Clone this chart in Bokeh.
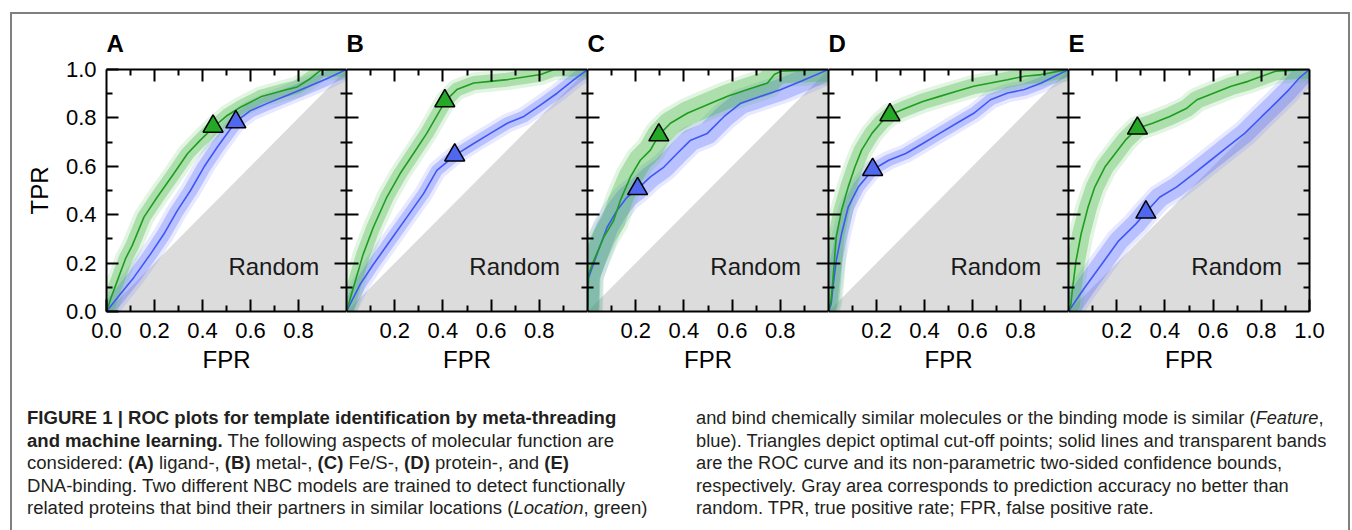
from bokeh.plotting import figure
from bokeh.layouts import row, column
from bokeh.models import (Range1d, LinearAxis, FixedTicker, PrintfTickFormatter,
                          CustomJSTickFormatter, Div)
from bokeh.core.properties import value
from bokeh.embed import file_html
from bokeh.resources import INLINE

FONT = "Liberation Sans"

# ---------------- data ----------------
panel_letters = ["A", "B", "C", "D", "E"]
major_ticks = [0.0, 0.2, 0.4, 0.6, 0.8, 1.0]
minor_ticks = [0.1, 0.3, 0.5, 0.7, 0.9]
x_tick_labels = [
    [0.0, 0.2, 0.4, 0.6, 0.8],
    [0.2, 0.4, 0.6, 0.8],
    [0.2, 0.4, 0.6, 0.8],
    [0.2, 0.4, 0.6, 0.8],
    [0.2, 0.4, 0.6, 0.8, 1.0],
]
random_fpr = [0.0, 1.0, 1.0]
random_tpr = [0.0, 0.0, 1.0]

# A: ligand-binding
A_loc_fpr = [0, 0.02, 0.05, 0.08, 0.107, 0.156, 0.211, 0.28, 0.337, 0.39, 0.444, 0.503, 0.56, 0.643, 0.74, 0.795, 0.85, 0.893, 1]
A_loc_tpr = [0, 0.06, 0.14, 0.22, 0.272, 0.39, 0.472, 0.569, 0.652, 0.707, 0.76, 0.81, 0.845, 0.887, 0.914, 0.928, 0.963, 0.997, 1]
A_feat_fpr = [0, 0.058, 0.114, 0.184, 0.239, 0.295, 0.35, 0.406, 0.462, 0.517, 0.545, 0.6, 0.67, 0.754, 0.837, 0.92, 1]
A_feat_tpr = [0, 0.072, 0.141, 0.238, 0.32, 0.417, 0.5, 0.597, 0.68, 0.755, 0.79, 0.83, 0.86, 0.894, 0.928, 0.963, 1]
A_cut = {"loc": (0.444, 0.765), "feat": (0.539, 0.783)}

# B: metal-binding
B_loc_fpr = [0, 0.028, 0.069, 0.111, 0.167, 0.222, 0.278, 0.333, 0.389, 0.41, 0.458, 0.528, 0.597, 0.667, 0.806, 0.861, 1]
B_loc_tpr = [0, 0.097, 0.236, 0.347, 0.472, 0.569, 0.653, 0.736, 0.833, 0.87, 0.917, 0.944, 0.951, 0.958, 0.979, 1.0, 1]
B_feat_fpr = [0, 0.056, 0.111, 0.181, 0.25, 0.319, 0.375, 0.451, 0.528, 0.597, 0.667, 0.736, 0.806, 0.875, 0.944, 1]
B_feat_tpr = [0, 0.111, 0.194, 0.292, 0.389, 0.486, 0.583, 0.646, 0.694, 0.736, 0.778, 0.806, 0.854, 0.903, 0.958, 1]
B_cut = {"loc": (0.408, 0.87), "feat": (0.449, 0.646)}

# C: Fe/S-binding
C_loc_fpr = [0, 0.004, 0.025, 0.067, 0.108, 0.136, 0.178, 0.219, 0.261, 0.296, 0.344, 0.414, 0.497, 0.581, 0.664, 0.747, 0.775, 0.803, 1]
C_loc_tpr = [0, 0.153, 0.208, 0.306, 0.375, 0.458, 0.556, 0.625, 0.667, 0.729, 0.778, 0.819, 0.854, 0.889, 0.917, 0.944, 0.979, 0.993, 1]
C_feat_fpr = [0, 0.004, 0.039, 0.081, 0.122, 0.164, 0.208, 0.261, 0.317, 0.372, 0.428, 0.497, 0.567, 0.636, 0.719, 0.803, 0.886, 1]
C_feat_tpr = [0, 0.139, 0.236, 0.347, 0.417, 0.472, 0.507, 0.556, 0.597, 0.653, 0.708, 0.736, 0.806, 0.861, 0.889, 0.917, 0.951, 1]
C_cut = {"loc": (0.296, 0.729), "feat": (0.208, 0.507)}

# D: protein-binding
D_loc_fpr = [0, 0.011, 0.018, 0.032, 0.054, 0.082, 0.11, 0.138, 0.181, 0.223, 0.256, 0.322, 0.393, 0.463, 0.534, 0.605, 0.675, 0.746, 0.816, 0.887, 0.958, 1]
D_loc_tpr = [0, 0.05, 0.125, 0.306, 0.417, 0.514, 0.597, 0.667, 0.736, 0.785, 0.8125, 0.84, 0.868, 0.889, 0.91, 0.931, 0.944, 0.958, 0.972, 0.979, 0.993, 1]
D_feat_fpr = [0, 0.011, 0.018, 0.032, 0.054, 0.082, 0.124, 0.184, 0.251, 0.322, 0.393, 0.463, 0.534, 0.605, 0.675, 0.746, 0.816, 0.887, 0.958, 1]
D_feat_tpr = [0, 0.03, 0.097, 0.208, 0.319, 0.431, 0.514, 0.586, 0.625, 0.653, 0.694, 0.736, 0.778, 0.819, 0.875, 0.903, 0.917, 0.944, 0.979, 1]
D_cut = {"loc": (0.256, 0.8125), "feat": (0.184, 0.586)}

# E: DNA-binding
E_loc_fpr = [0, 0.01, 0.017, 0.031, 0.052, 0.081, 0.109, 0.151, 0.194, 0.236, 0.286, 0.349, 0.42, 0.491, 0.533, 0.604, 0.675, 0.745, 0.802, 0.859, 1]
E_loc_tpr = [0, 0.03, 0.097, 0.208, 0.319, 0.431, 0.514, 0.597, 0.653, 0.708, 0.757, 0.778, 0.806, 0.84, 0.875, 0.903, 0.931, 0.951, 0.972, 0.993, 1]
E_feat_fpr = [0, 0.066, 0.137, 0.208, 0.279, 0.321, 0.378, 0.448, 0.519, 0.59, 0.661, 0.731, 0.802, 0.859, 0.915, 0.958, 1]
E_feat_tpr = [0, 0.097, 0.194, 0.292, 0.361, 0.41, 0.472, 0.514, 0.569, 0.625, 0.681, 0.736, 0.806, 0.861, 0.917, 0.965, 1]
E_cut = {"loc": (0.286, 0.757), "feat": (0.321, 0.41)}

panels = [
    (A_loc_fpr, A_loc_tpr, A_feat_fpr, A_feat_tpr, A_cut),
    (B_loc_fpr, B_loc_tpr, B_feat_fpr, B_feat_tpr, B_cut),
    (C_loc_fpr, C_loc_tpr, C_feat_fpr, C_feat_tpr, C_cut),
    (D_loc_fpr, D_loc_tpr, D_feat_fpr, D_feat_tpr, D_cut),
    (E_loc_fpr, E_loc_tpr, E_feat_fpr, E_feat_tpr, E_cut),
]

caption_left = [
    "<b>FIGURE 1 | ROC plots for template identification by meta-threading</b>",
    "<b>and machine learning.</b> The following aspects of molecular function are",
    "considered: <b>(A)</b> ligand-, <b>(B)</b> metal-, <b>(C)</b> Fe/S-, <b>(D)</b> protein-, and <b>(E)</b>",
    "DNA-binding. Two different NBC models are trained to detect functionally",
    "related proteins that bind their partners in similar locations (<i>Location</i>, green)",
]
caption_right = [
    "and bind chemically similar molecules or the binding mode is similar (<i>Feature</i>,",
    "blue). Triangles depict optimal cut-off points; solid lines and transparent bands",
    "are the ROC curve and its non-parametric two-sided confidence bounds,",
    "respectively. Gray area corresponds to prediction accuracy no better than",
    "random. TPR, true positive rate; FPR, false positive rate.",
]

# ---------------- styles ----------------
GREEN_LINE = "#1e9e1e"
BLUE_LINE = "#3f57f5"
GREEN_BAND = "#3cb43c"
BLUE_BAND = "#5a6cff"
GREEN_TRI = "#25a825"
BLUE_TRI = "#5068f0"
LOC_BAND_PX = [7, 7, 12, 8, 9]
FEAT_BAND_PX = [7, 6, 11, 6, 10]
FRAME_W = [240, 241, 241, 240, 241]
FRAME_H = 242
TOP, BOTTOM = 55, 72
FIG_H = TOP + FRAME_H + BOTTOM
CAP_H = 530 - 14 - FIG_H


def style_axis(ax, ticks, labelled):
    ax.ticker = FixedTicker(ticks=ticks, minor_ticks=minor_ticks)
    ax.major_tick_in = 12
    ax.major_tick_out = 0
    ax.minor_tick_in = 6
    ax.minor_tick_out = 0
    ax.major_tick_line_width = 2
    ax.minor_tick_line_width = 2
    ax.major_tick_line_color = "black"
    ax.minor_tick_line_color = "black"
    ax.axis_line_width = 2
    ax.axis_line_color = "black"
    if labelled:
        ax.formatter = PrintfTickFormatter(format="%.1f")
        ax.major_label_text_font = FONT
        ax.major_label_text_font_size = "22px"
        ax.major_label_text_color = "black"
    else:
        ax.formatter = CustomJSTickFormatter(code="return ''")
        ax.major_label_text_font_size = "0px"
        ax.major_label_standoff = 0


figs = []
for i, (lf, lt, ff, ft, cut) in enumerate(panels):
    left = 94 if i == 0 else 0
    right = 39 if i == 4 else 0
    p = figure(width=left + FRAME_W[i] + right, height=FIG_H,
               x_range=Range1d(0, 1), y_range=Range1d(0, 1),
               x_axis_location=None, y_axis_location=None,
               output_backend="svg", toolbar_location=None,
               min_border_left=left, min_border_right=right,
               min_border_top=TOP, min_border_bottom=BOTTOM,
               title=panel_letters[i], margin=0)
    p.grid.visible = False
    p.outline_line_color = None
    p.background_fill_color = "white"
    p.border_fill_color = "white"
    p.title.text_font = FONT
    p.title.text_font_size = "24px"
    p.title.text_font_style = "bold"
    p.title.text_color = "black"
    p.title.align = "left"
    p.title.offset = 0
    p.title.standoff = 25

    # random area
    p.patch(random_fpr, random_tpr, fill_color="#dcdcdc", line_color=None)
    # confidence bands (blurred look: wide faint + narrower stronger)
    for fx, fy, col, hw in ((ff, ft, BLUE_BAND, FEAT_BAND_PX[i]), (lf, lt, GREEN_BAND, LOC_BAND_PX[i])):
        p.line(fx, fy, line_color=col, line_alpha=0.15, line_width=2 * hw + 7,
               line_join="round", line_cap="round")
        p.line(fx, fy, line_color=col, line_alpha=0.32, line_width=2 * hw,
               line_join="round", line_cap="round")
    # ROC curves
    p.line(ff, ft, line_color=BLUE_LINE, line_width=1.6)
    p.line(lf, lt, line_color=GREEN_LINE, line_width=1.6)
    # optimal cut-offs
    p.scatter([cut["loc"][0]], [cut["loc"][1]], marker="triangle", size=20,
              fill_color=GREEN_TRI, line_color="black", line_width=1.5)
    p.scatter([cut["feat"][0]], [cut["feat"][1]], marker="triangle", size=20,
              fill_color=BLUE_TRI, line_color="black", line_width=1.5)
    p.text(x=[0.886], y=[0.185], text=["Random"], text_align="right",
           text_baseline="middle", text_font=value(FONT), text_font_size="24px",
           text_color="#1a1a1a")

    # axes
    xb = LinearAxis()
    style_axis(xb, x_tick_labels[i], True)
    xb.major_label_standoff = 11
    xb.axis_label = "FPR"
    xb.axis_label_text_font = FONT
    xb.axis_label_text_font_size = "24px"
    xb.axis_label_text_font_style = "normal"
    xb.axis_label_text_color = "black"
    xb.axis_label_standoff = 5
    p.add_layout(xb, "below")

    yl = LinearAxis()
    if i == 0:
        style_axis(yl, major_ticks, True)
        yl.major_label_standoff = 10
        yl.axis_label = "TPR"
        yl.axis_label_text_font = FONT
        yl.axis_label_text_font_size = "24px"
        yl.axis_label_text_font_style = "normal"
        yl.axis_label_text_color = "black"
        yl.axis_label_standoff = 10
    else:
        style_axis(yl, [0.2, 0.4, 0.6, 0.8], False)
    p.add_layout(yl, "left")

    xt = LinearAxis()
    style_axis(xt, [0.2, 0.4, 0.6, 0.8], False)
    p.add_layout(xt, "above")
    yr = LinearAxis()
    style_axis(yr, [0.2, 0.4, 0.6, 0.8], False)
    p.add_layout(yr, "right")
    figs.append(p)

cap_base = ("font-family:'Liberation Sans Narrow','Liberation Sans',Arial,sans-serif;"
            "font-size:18px;line-height:22.6px;color:#231f20;white-space:nowrap;"
            "transform-origin:0 0;")
html = (f'<div style="position:relative;width:1336px;height:{CAP_H}px;">'
        f'<div style="position:absolute;left:15px;top:24px;{cap_base}transform:scaleX(1.03);">'
        + "<br>".join(caption_left) + '</div>'
        f'<div style="position:absolute;left:684px;top:24px;{cap_base}transform:scaleX(1.015);">'
        + "<br>".join(caption_right) + '</div>'
        '</div>')
cap = Div(text=html, width=1336, height=CAP_H, margin=0)

top_row = row(*figs, margin=0, spacing=0)
layout = column(top_row, cap, margin=(12, 0, 0, 10), spacing=0,
                styles={"border-top": "2px solid #808080", "border-left": "2px solid #808080",
                        "border-right": "2px solid #808080"})

open("out.html", "w").write(file_html(layout, INLINE))
